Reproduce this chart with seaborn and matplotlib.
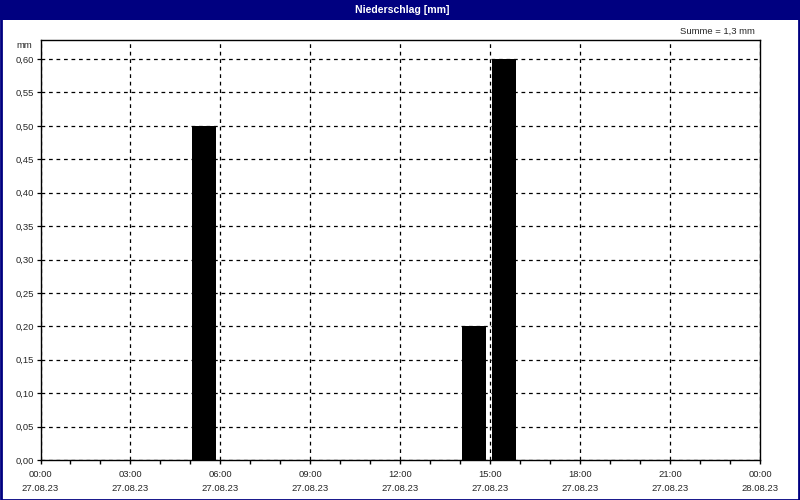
import numpy as np
import pandas as pd
import seaborn as sns
import matplotlib.pyplot as plt
from matplotlib.patches import Rectangle
from matplotlib.ticker import MultipleLocator

# --- Daten ---
stunden = [5, 14, 15]            # Stunde des Niederschlags (27.08.23)
niederschlag = [0.5, 0.2, 0.6]   # mm
tick_zeiten = ["00:00", "03:00", "06:00", "09:00", "12:00", "15:00", "18:00", "21:00", "00:00"]
tick_daten = ["27.08.23"] * 8 + ["28.08.23"]
summe_text = "Summe = 1,3 mm"
titel = "Niederschlag [mm]"

NAVY = "#000080"

sns.set_style("white")
plt.rcParams['font.family'] = ['Liberation Sans', 'DejaVu Sans']

W, H = 800, 500
fig = plt.figure(figsize=(8, 5), dpi=100, facecolor="white")
ax = fig.add_axes([40.5 / W, 1 - 460 / H, (760 - 40.5) / W, (460 - 40) / H])

df = pd.DataFrame({"stunde": np.array(stunden) + 0.45, "mm": niederschlag})
sns.barplot(data=df, x="stunde", y="mm", native_scale=True, width=0.8,
            color="black", saturation=1, edgecolor="black", linewidth=0, ax=ax)

ax.set_xlim(0, 24)
ax.set_ylim(0, 0.6285)
ax.set_xlabel("")
ax.set_ylabel("")

ax.set_xticks(np.arange(0, 25, 3))
ax.set_xticklabels([f"{z}\n{d}" for z, d in zip(tick_zeiten, tick_daten)],
                   fontsize=6.8, linespacing=1.75)
ax.xaxis.set_minor_locator(MultipleLocator(1))
ax.tick_params(axis="x", which="both", direction="out", length=3, width=1,
               color="black", pad=4, bottom=True)

yt = np.arange(0, 0.601, 0.05)
ax.set_yticks(yt)
ax.set_yticklabels([f"{v:.2f}".replace(".", ",") for v in yt], fontsize=6.8)
ax.tick_params(axis="y", direction="out", length=3, width=0.9, color="black",
               pad=1.5, left=True)

ax.grid(True, which="major", color="black", linestyle=(0, (3, 3)), linewidth=0.9)
ax.set_axisbelow(False)
for s in ax.spines.values():
    s.set_visible(True)
    s.set_color("black")
    s.set_linewidth(1)

# Titelleiste und Rahmen
fig.patches.append(Rectangle((0, 1 - 20 / H), 1, 20 / H, transform=fig.transFigure,
                             facecolor=NAVY, edgecolor="none", zorder=0))
fig.patches.append(Rectangle((0.5 / W, 0.5 / H), 1 - 1.5 / W, 1 - 1.5 / H,
                             transform=fig.transFigure, facecolor="none",
                             edgecolor=NAVY, linewidth=2, zorder=5))
fig.text(402 / W, 1 - 10 / H, titel, color="white", fontsize=7.6, fontweight="bold",
         ha="center", va="center")
fig.text(755 / W, 1 - 31 / H, summe_text, fontsize=6.8, ha="right", va="center")
fig.text(32 / W, 1 - 46 / H, "mm", fontsize=6.8, ha="right", va="center")

fig.savefig("out.png", dpi=100)
